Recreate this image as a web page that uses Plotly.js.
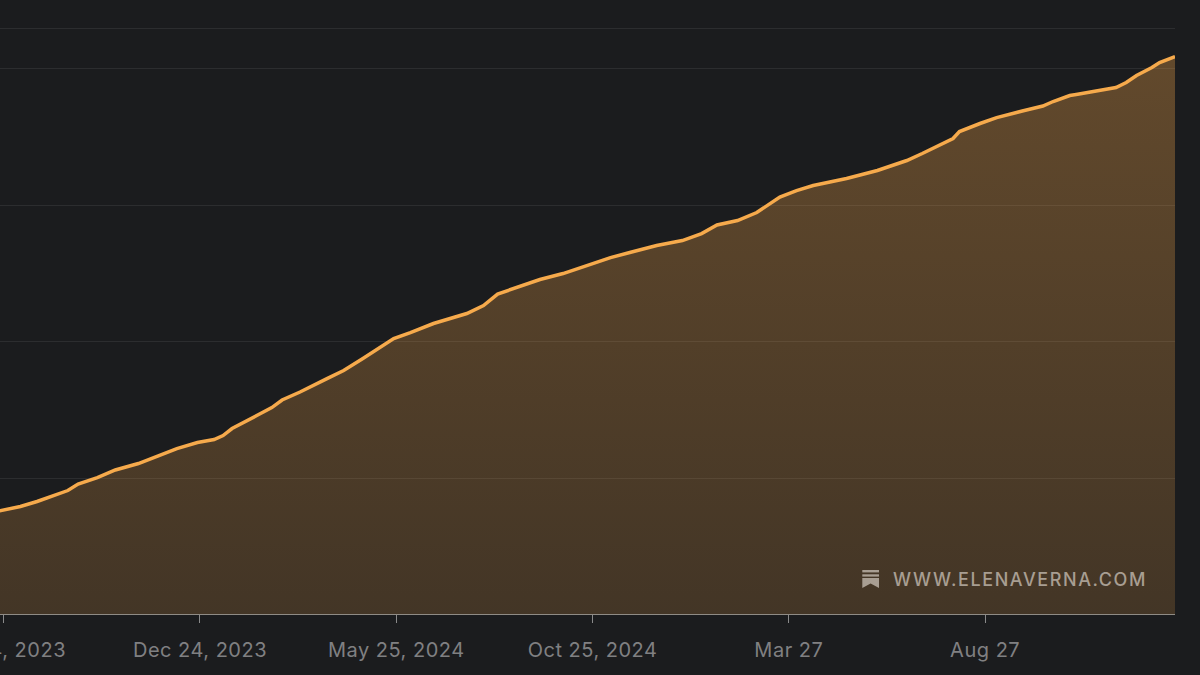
<!DOCTYPE html>
<html><head><meta charset="utf-8">
<script src="https://cdn.plot.ly/plotly-3.0.1.min.js"></script>
<style>
html,body{margin:0;padding:0;background:#1b1c1e;overflow:hidden}
#c{width:1200px;height:675px}
.annotation-text{letter-spacing:1.58px}
.xtick text{letter-spacing:0.5px}
</style></head><body><div id="c"></div>
<script>
const startDate = '2023-07-24';
const daysSinceStart = [-4,13,26,37,50,58,73,87,105,120,135,151,164,171,178,198,209,217,231,252,265,280,294,304,317,335,361,374,385,405,418,436,457,473,488,509,529,544,556,572,587,595,605,618,631,657,681,704,716,740,745,761,774,794,810,818,831,836,860,867,875,883,895,901,913];
const audience = [18.96,19.78,20.70,21.61,22.71,23.90,25.09,26.47,27.66,29.03,30.40,31.50,32.05,32.78,34.07,36.54,37.91,39.29,40.75,43.22,44.69,46.89,49.08,50.55,51.65,53.30,55.13,56.59,58.70,60.26,61.36,62.45,64.10,65.38,66.30,67.58,68.50,69.78,71.34,72.16,73.63,74.91,76.46,77.65,78.57,79.85,81.32,83.15,84.43,87.18,88.46,89.93,91.02,92.22,93.13,93.96,95.05,95.24,96.15,96.52,97.44,98.72,100.18,101.10,102.20];
const tickDates = ['2023-07-24','2023-12-24','2024-05-25','2024-10-25','2025-03-27','2025-08-27'];
const tickLabels = ['Jul 24, 2023','Dec 24, 2023','May 25, 2024','Oct 25, 2024','Mar 27','Aug 27'];
const gridValues = [25,50,75,100,107.33];
const watermark = 'WWW.ELENAVERNA.COM';

const dates = daysSinceStart.map(d => new Date(Date.parse(startDate + 'T00:00:00Z') + d * 864e5).toISOString().slice(0,10));

// watermark icon, in plot-fraction coordinates
const W = 1175, H = 614;
const px = (x,y) => (x / W).toFixed(5) + ',' + ((H - y) / H).toFixed(5);
const iconPart = pts => 'M' + pts.map(p => px(p[0],p[1])).join('L') + 'Z';
const iconShape = pts => ({type:'path', xref:'paper', yref:'paper', layer:'above', path:iconPart(pts), fillcolor:'#a89e92', line:{width:0}});

Plotly.newPlot('c', [{
  x: dates, y: audience, type:'scatter', mode:'lines',
  line:{color:'#f6aa4c', width:3.5, shape:'linear'},
  fill:'tozeroy',
  fillcolor:'rgba(249,169,74,0.25)',
  fillgradient:{type:'vertical', start:0, stop:102,
    colorscale:[[0,'rgba(249,169,74,0.18)'],[1,'rgba(249,169,74,0.32)']]},
  hoverinfo:'skip'
}], {
  width:1200, height:675,
  margin:{l:0,r:25,t:0,b:61,pad:0},
  paper_bgcolor:'#1b1c1e', plot_bgcolor:'#1b1c1e',
  showlegend:false,
  font:{family:'Inter, sans-serif', color:'#808082', size:20},
  xaxis:{type:'date', range:['2023-07-21 03:00','2026-01-22 00:00'],
    tickmode:'array', tickvals:tickDates, ticktext:tickLabels,
    ticks:'outside', ticklen:8, tickwidth:1, tickcolor:'#8a8a8a',
    showline:true, linecolor:'#8f8b85', linewidth:1,
    showgrid:false, zeroline:false, automargin:false, ticklabelstandoff:10,
    ticklabeloverflow:'allow',
    tickfont:{family:'Inter, sans-serif', color:'#808082', size:20}},
  yaxis:{range:[0.1,112.55], tickmode:'array', tickvals:gridValues,
    showticklabels:false, ticks:'', showline:false, zeroline:false,
    showgrid:true, gridcolor:'#2c2d2f', gridwidth:1, automargin:false},
  shapes:[
    iconShape([[862.3,570],[879,570],[879,572.4],[862.3,572.4]]),
    iconShape([[862.3,574.3],[879,574.3],[879,576.6],[862.3,576.6]]),
    iconShape([[862.3,578],[879,578],[879,588],[870.6,583.5],[862.3,588]])
  ],
  annotations:[{text:watermark, xref:'paper', yref:'paper', x:891/W, y:(H-579.5)/H,
    xanchor:'left', yanchor:'middle', showarrow:false,
    font:{family:'Inter, sans-serif', size:18, color:'#a89e92', weight:500}}]
}, {displayModeBar:false, staticPlot:true});
</script></body></html>
